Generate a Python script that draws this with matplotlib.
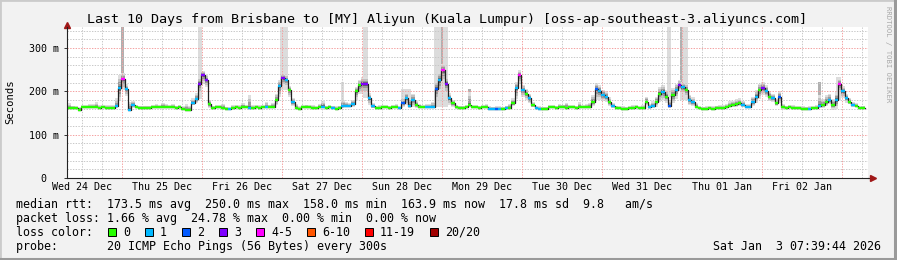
import numpy as np
import matplotlib.pyplot as plt
from matplotlib.patches import Rectangle
from datetime import datetime, timedelta

plt.rcParams['font.family'] = ['DejaVu Sans Mono']

# time of the last sample; the graph covers the 240 hours before it
end_time = datetime(2026, 1, 3, 7, 39, 44)
start_time = end_time - timedelta(hours=240)

day_labels = ['Wed 24 Dec', 'Thu 25 Dec', 'Fri 26 Dec', 'Sat 27 Dec', 'Sun 28 Dec',
              'Mon 29 Dec', 'Tue 30 Dec', 'Wed 31 Dec', 'Thu 01 Jan', 'Fri 02 Jan']
y_ticks = [0, 100, 200, 300]
y_tick_labels = ['0  ', '100 m', '200 m', '300 m']

# hourly median rtt (ms)
median_ms = [
    162, 162, 161, 158, 163, 163, 163, 164, 163, 162, 163, 162, 161, 162, 166, 207, 228, 205, 158, 168, 163, 162, 162, 162,
    162, 163, 163, 163, 164, 164, 163, 164, 162, 163, 160, 158, 158, 172, 182, 218, 238, 226, 170, 162, 163, 163, 162, 160,
    159, 162, 163, 162, 164, 163, 161, 162, 163, 161, 163, 164, 164, 165, 180, 212, 230, 226, 203, 176, 162, 160, 163, 164,
    163, 162, 161, 163, 165, 162, 163, 162, 160, 162, 167, 167, 166, 170, 200, 215, 218, 218, 184, 166, 161, 162, 163, 163,
    162, 163, 164, 161, 172, 184, 166, 180, 168, 165, 163, 163, 164, 165, 205, 226, 249, 218, 184, 172, 163, 162, 162, 163,
    168, 163, 163, 162, 163, 163, 160, 159, 159, 160, 160, 161, 162, 172, 207, 237, 203, 195, 184, 168, 161, 160, 160, 160,
    163, 163, 162, 163, 164, 162, 163, 163, 162, 163, 163, 163, 165, 176, 205, 200, 192, 188, 176, 166, 162, 161, 160, 160,
    161, 162, 163, 161, 162, 176, 163, 167, 176, 195, 199, 188, 166, 192, 203, 215, 209, 203, 180, 176, 165, 161, 160, 160,
    161, 160, 162, 161, 162, 163, 167, 168, 170, 172, 168, 163, 163, 176, 188, 203, 207, 200, 188, 184, 172, 188, 163, 162,
    163, 162, 161, 161, 160, 160, 159, 161, 162, 166, 168, 176, 180, 168, 180, 216, 200, 184, 176, 168, 166, 161, 162,
]

# spread of the bulk of the pings above / below the median (ms)
smoke_up = [
    10, 5, 5, 6, 6, 5, 8, 6, 12, 6, 5, 6, 8, 6, 18, 30, 15, 12, 18, 10, 5, 5, 5, 5,
    5, 5, 8, 5, 10, 6, 5, 6, 5, 5, 6, 12, 8, 12, 15, 15, 10, 12, 10, 5, 6, 6, 8, 5,
    5, 6, 5, 6, 8, 5, 30, 6, 5, 8, 6, 12, 5, 8, 15, 15, 12, 12, 10, 8, 8, 6, 5, 5,
    5, 6, 5, 8, 12, 5, 6, 5, 6, 5, 12, 8, 8, 10, 10, 12, 15, 15, 12, 8, 5, 6, 5, 5,
    5, 5, 6, 5, 15, 15, 20, 15, 10, 6, 6, 8, 6, 10, 20, 20, 15, 15, 12, 8, 6, 5, 5, 6,
    30, 5, 6, 5, 5, 8, 6, 6, 8, 6, 5, 6, 8, 12, 15, 12, 12, 10, 10, 8, 5, 6, 5, 5,
    5, 6, 5, 8, 5, 12, 6, 5, 5, 12, 6, 8, 8, 15, 15, 15, 12, 12, 10, 8, 5, 5, 6, 5,
    5, 6, 5, 5, 6, 12, 8, 10, 12, 15, 15, 15, 15, 15, 15, 12, 12, 15, 12, 10, 8, 5, 5, 6,
    5, 6, 5, 8, 6, 8, 10, 10, 12, 12, 10, 8, 8, 12, 15, 15, 15, 15, 12, 10, 10, 12, 8, 5,
    5, 6, 5, 5, 6, 5, 8, 5, 6, 25, 15, 15, 15, 15, 18, 15, 12, 10, 8, 8, 6, 5, 5,
]
smoke_dn = [
    2, 2, 2, 2, 2, 2, 2, 2, 2, 2, 2, 2, 2, 2, 4, 30, 25, 15, 2, 6, 2, 2, 2, 2,
    2, 2, 2, 2, 2, 2, 2, 2, 2, 2, 2, 2, 2, 4, 10, 25, 20, 15, 8, 2, 2, 2, 2, 2,
    2, 2, 2, 2, 2, 2, 2, 2, 2, 2, 2, 2, 2, 2, 12, 25, 20, 15, 15, 10, 2, 2, 2, 2,
    2, 2, 2, 2, 2, 2, 2, 2, 2, 2, 3, 3, 3, 5, 20, 20, 25, 25, 15, 5, 2, 2, 2, 2,
    2, 2, 2, 2, 8, 15, 4, 15, 6, 2, 2, 2, 2, 3, 25, 30, 30, 25, 15, 8, 3, 2, 2, 2,
    4, 2, 2, 2, 2, 2, 2, 2, 2, 2, 2, 2, 2, 6, 25, 20, 15, 15, 12, 5, 2, 2, 2, 2,
    2, 2, 2, 2, 2, 2, 2, 2, 2, 2, 2, 2, 2, 10, 25, 20, 15, 12, 10, 4, 2, 2, 2, 2,
    2, 2, 2, 2, 2, 8, 3, 5, 12, 20, 20, 15, 4, 20, 20, 15, 15, 15, 12, 10, 4, 2, 2, 2,
    2, 2, 2, 2, 2, 2, 4, 4, 6, 6, 4, 2, 2, 10, 15, 20, 15, 12, 10, 8, 6, 15, 3, 2,
    2, 2, 2, 2, 2, 2, 2, 2, 2, 4, 6, 10, 10, 10, 20, 20, 15, 10, 6, 4, 3, 2, 2,
]

# hours where pings were lost (out of 20)
lost_1 = [14, 15, 17, 18, 19, 37, 38, 48, 54, 59, 63, 65, 67, 76, 79, 82, 83, 84, 85, 90, 91,
          99, 101, 102, 103, 107, 108, 109, 111, 114, 126, 127, 129, 131, 134, 136, 138, 140,
          141, 159, 160, 161, 163, 174, 175, 178, 182, 184, 186, 187, 202, 203, 204, 205, 206,
          209, 211, 222, 225, 228, 230, 232, 233, 235]
lost_2 = [100, 110, 128, 158, 180, 213]
lost_3 = [39, 40, 41, 64, 88, 89, 113, 183, 208]
lost_4 = [16, 112, 135, 231]

# single slow pings (outliers) reaching far above the median
spike_start = [15.8, 38.9, 63.6, 81.8, 88.5, 100.0, 109.8, 111.9, 120.0, 179.7, 183.6, 183.6, 208.0, 225.0, 230.5]
spike_end = [16.8, 40.1, 66.0, 82.8, 90.0, 103.0, 114.0, 112.6, 121.0, 181.0, 186.0, 184.3, 209.0, 226.0, 232.0]
spike_top = [400, 400, 400, 222, 400, 205, 400, 400, 205, 400, 400, 400, 222, 222, 234]
spike_dark = [1, 0, 0, 0, 0, 0, 0, 1, 1, 0, 0, 1, 0, 1, 0]

loss_labels = ['0', '1', '2', '3', '4-5', '6-10', '11-19', '20/20']
loss_colors = ['#26ff00', '#00b8ff', '#0059ff', '#7e00ff', '#ff00ff', '#ff5500', '#ff0000', '#a10000']

W, H = 897, 260
fig = plt.figure(figsize=(W / 100, H / 100), dpi=100, facecolor='#f2f2f2')

# 3d-ish frame like rrdtool
fig.patches.append(Rectangle((0, 0), 1, 1, transform=fig.transFigure, fill=False,
                             edgecolor='#cbcbcb', lw=2))
fig.add_artist(plt.Line2D([0, 1], [0.002, 0.002], color='#9a9a9a', lw=2.2))
fig.add_artist(plt.Line2D([0.998, 0.998], [0, 1], color='#9a9a9a', lw=2.2))

x0, x1, ytop, ybot = 67, 868, 27, 178
ax = fig.add_axes([x0 / W, 1 - ybot / H, (x1 - x0) / W, (ybot - ytop) / H])
ax.set_facecolor('white')

n = len(median_ms)
hours = np.arange(n + 1)
med = np.array(median_ms + [median_ms[-1]], dtype=float)
up = np.array(smoke_up + [smoke_up[-1]], dtype=float)
dn = np.array(smoke_dn + [smoke_dn[-1]], dtype=float)

# outlier spikes, from the median up to the slowest ping
for s, e, t, d in zip(spike_start, spike_end, spike_top, spike_dark):
    base = min(median_ms[int(s)], median_ms[min(int(e), n - 1)])
    ax.fill_between([s, e], base, t, color='#b0b0b0' if d else '#dcdcdc', lw=0, zorder=1)

# smoke: lighter further from the median
for frac, col in [(1.0, '#dedede'), (0.7, '#c0c0c0'), (0.45, '#9a9a9a'), (0.2, '#6a6a6a')]:
    ax.fill_between(hours, med - dn * frac, med + up * frac, step='post',
                    color=col, lw=0, zorder=2)

# grid
ymax = 348.5
for v in range(20, 341, 20):
    if v % 100:
        ax.axhline(v, color='#c8c8c8', lw=0.7, ls=(0, (1.4, 1.4)), zorder=2.5)
    else:
        ax.axhline(v, color='#f4a0a0', lw=0.7, ls=(0, (1.4, 1.4)), zorder=2.6)

first_midnight = (datetime(2025, 12, 25) - start_time).total_seconds() / 3600
for k in range(-4, 40):
    hx = first_midnight + 6 * k
    if 0 < hx < 240:
        col = '#f4a0a0' if k % 4 == 0 else '#c8c8c8'
        ax.axvline(hx, color=col, lw=0.7, ls=(0, (1.4, 1.4)), zorder=2.6 if k % 4 == 0 else 2.5)

# median line, dark steps with colored loss segments
ax.step(hours, med, where='post', color='#202020', lw=0.9, zorder=3)
loss_class = np.zeros(n, dtype=int)
for cls, hrs in [(1, lost_1), (2, lost_2), (3, lost_3), (4, lost_4)]:
    loss_class[hrs] = cls
for cls in range(len(loss_colors)):
    idx = np.where(loss_class == cls)[0]
    if len(idx):
        ax.hlines(np.array(median_ms)[idx], idx, idx + 1, color=loss_colors[cls],
                  lw=1.7, zorder=4)

ax.set_xlim(-0.3, 240)
ax.set_ylim(0, ymax)

noon_pos = [(datetime(2025, 12, 24, 12) + timedelta(days=k) - start_time).total_seconds() / 3600
            for k in range(len(day_labels))]
ax.set_xticks(noon_pos)
ax.set_xticklabels(day_labels, fontsize=7.2)
ax.set_yticks(y_ticks)
ax.set_yticklabels(y_tick_labels, fontsize=7.2)
ax.tick_params(axis='x', length=0, pad=3)
ax.tick_params(axis='y', length=2, width=0.7, pad=4, color='#333333')

for side in ['top', 'right']:
    ax.spines[side].set_visible(False)
for side in ['left', 'bottom']:
    ax.spines[side].set_color('#222222')
    ax.spines[side].set_linewidth(0.8)
    ax.spines[side].set_zorder(5)
ax.plot([1.0, 1.004], [0, 0], transform=ax.transAxes, color='#222222', lw=0.8, clip_on=False)
ax.plot([1.006], [0], marker='>', ms=4, color='#a01818', transform=ax.transAxes, clip_on=False)
ax.plot([0], [1.015], marker='^', ms=4, color='#a01818', transform=ax.transAxes, clip_on=False)

fig.text(10 / W, 1 - 102 / H, 'Seconds', rotation=90, fontsize=7.6, ha='center', va='center')

fig.text(447 / W, 1 - 19 / H,
         'Last 10 Days from Brisbane to [MY] Aliyun (Kuala Lumpur) [oss-ap-southeast-3.aliyuncs.com]',
         fontsize=9.6, ha='center', va='center')
fig.text(888 / W, 1 - 6 / H, 'RRDTOOL / TOBI OETIKER', rotation=270, fontsize=5.2,
         color='#a8a8a8', ha='center', va='top')

fs = 8.37
rows = [204.3, 218.3, 232.3, 246.3]
fig.text(16 / W, 1 - rows[0] / H,
         'median rtt:  173.5 ms avg  250.0 ms max  158.0 ms min  163.9 ms now  17.8 ms sd  9.8   am/s',
         fontsize=fs, va='center')
fig.text(16 / W, 1 - rows[1] / H,
         'packet loss: 1.66 % avg  24.78 % max  0.00 % min  0.00 % now', fontsize=fs, va='center')
fig.text(16 / W, 1 - rows[2] / H, 'loss color:', fontsize=fs, va='center')
fig.text(16 / W, 1 - rows[3] / H, 'probe:       20 ICMP Echo Pings (56 Bytes) every 300s',
         fontsize=fs, va='center')
fig.text(881 / W, 1 - rows[3] / H, 'Sat Jan  3 07:39:44 2026', fontsize=fs, va='center', ha='right')

bx = 108
for lab, col in zip(loss_labels, loss_colors):
    fig.patches.append(Rectangle((bx / W, 1 - (rows[2] + 4) / H), 8 / W, 8 / H,
                                 transform=fig.transFigure, facecolor=col,
                                 edgecolor='black', lw=0.7))
    fig.text((bx + 15) / W, 1 - rows[2] / H, lab, fontsize=fs, va='center')
    bx = bx + 15 + len(lab) * 7 + 15

fig.savefig('out.png', dpi=100, facecolor=fig.get_facecolor())
